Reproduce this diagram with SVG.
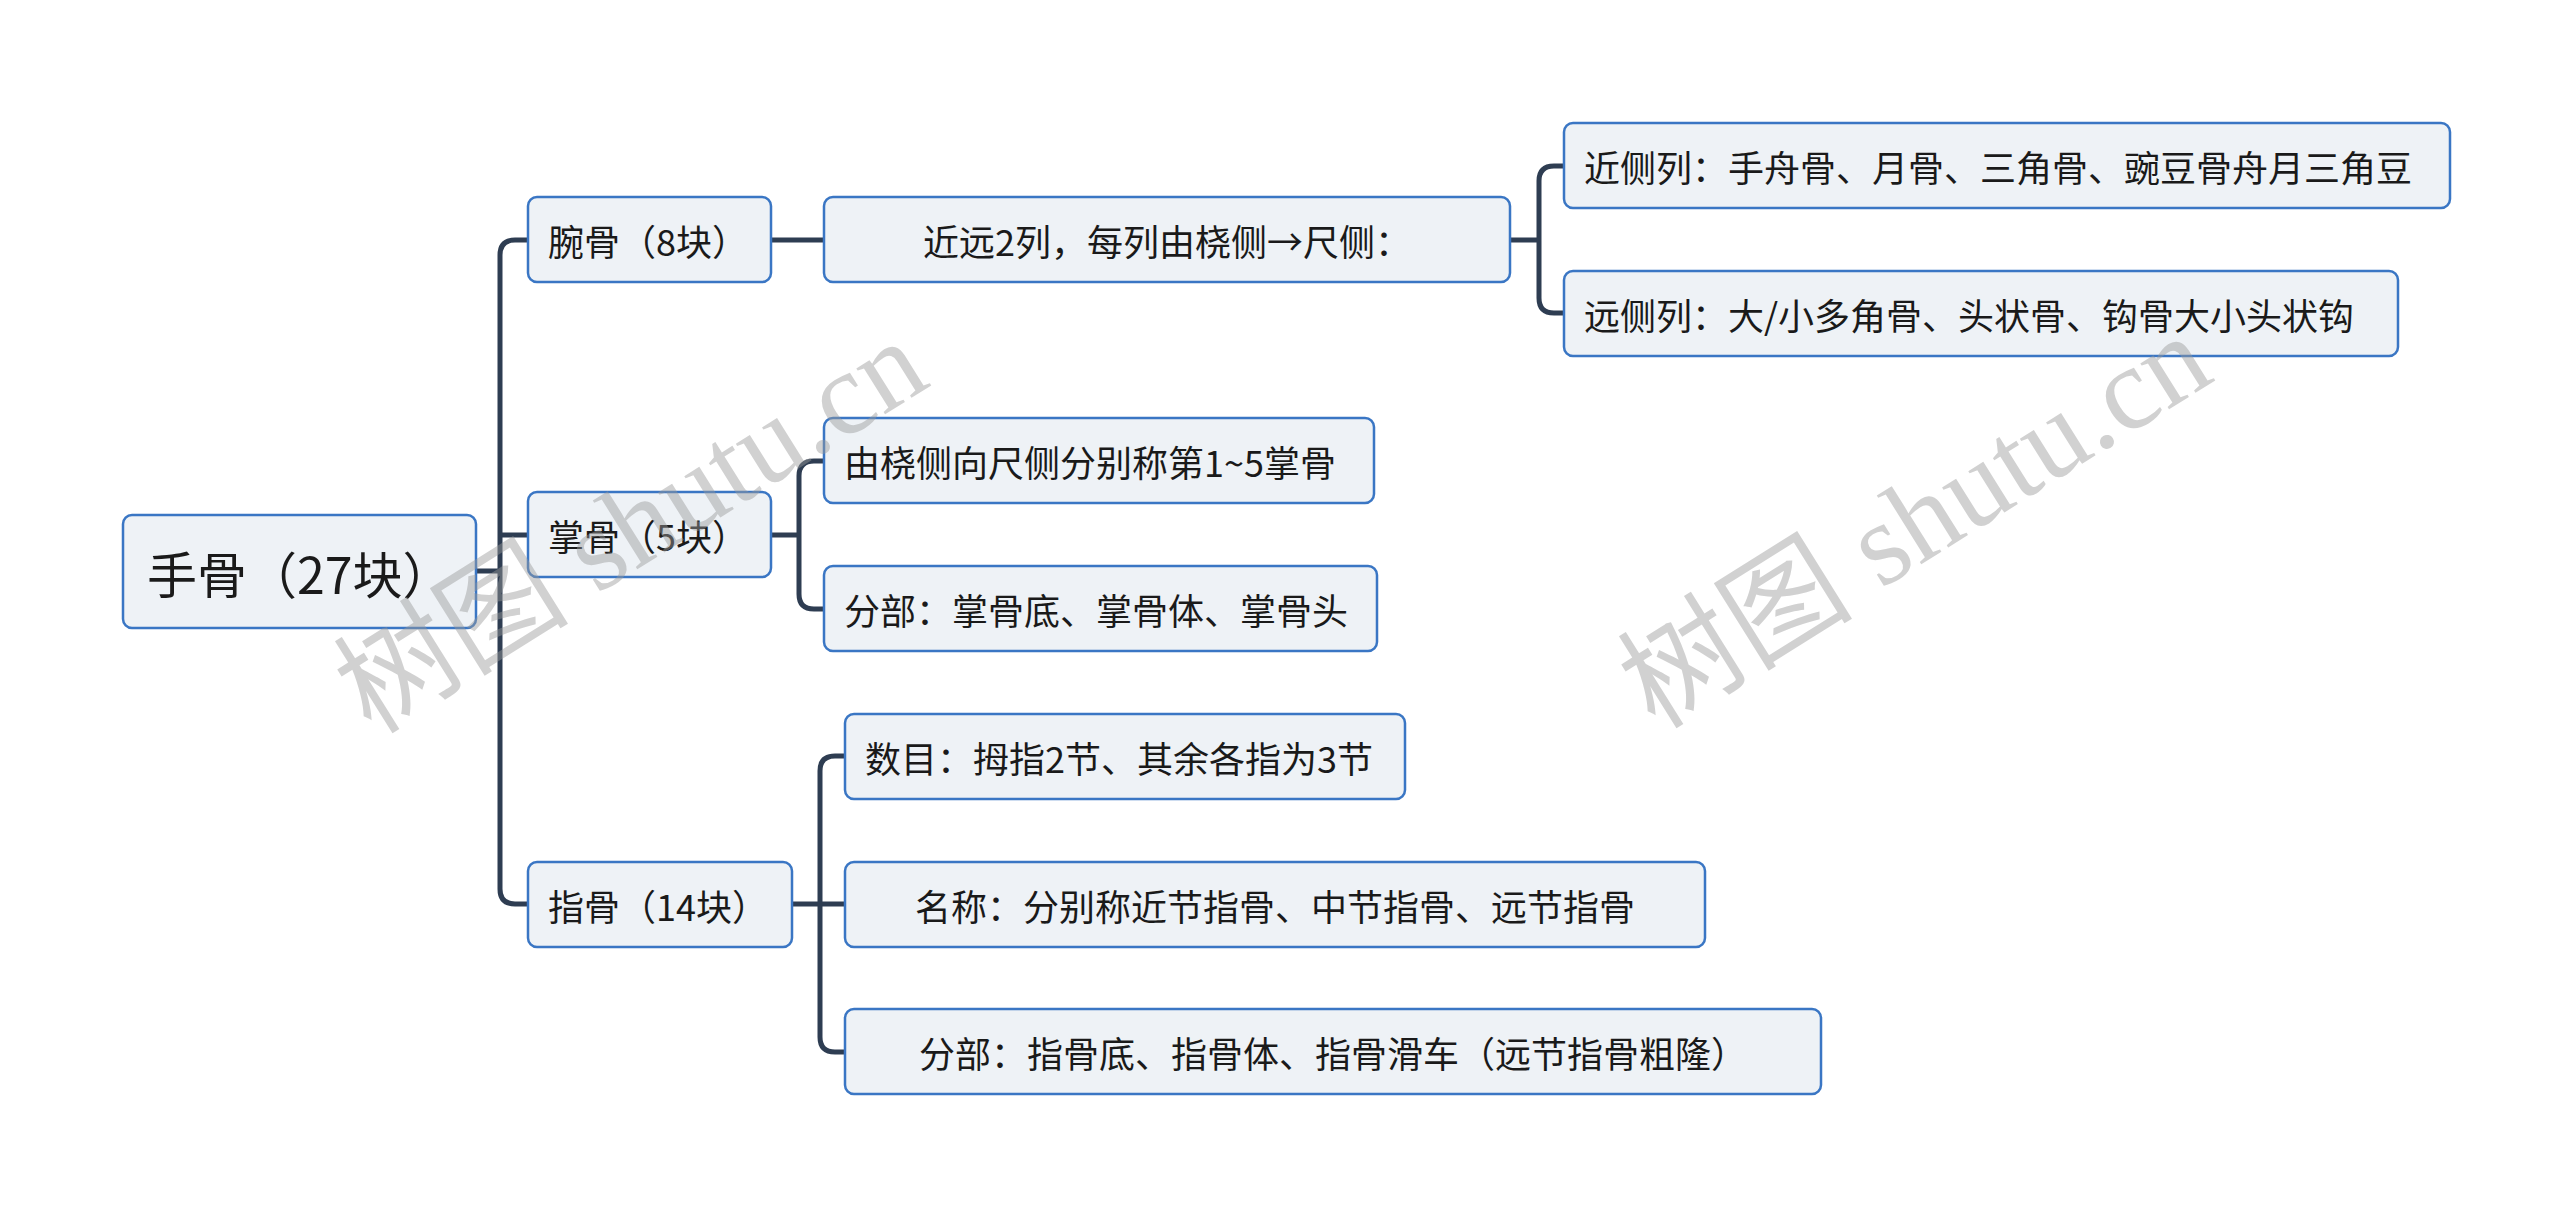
<svg xmlns="http://www.w3.org/2000/svg" width="2560" height="1211" viewBox="0 0 2560 1211">
<style>
.n{fill:#eef2f6;stroke:#3a76c4;stroke-width:2.5}
.t{font-family:"Noto Sans CJK SC","Noto Sans",sans-serif;fill:#1a1a1a;font-size:36px;text-anchor:middle;dominant-baseline:central}
.l{text-anchor:start}
.c{fill:none;stroke:#2e3d52;stroke-width:5;stroke-linecap:round}
.w{font-family:"Liberation Serif","Noto Sans CJK SC",serif;fill:#9a9a9a;opacity:0.45;font-size:118px;text-anchor:middle}
</style>
<rect width="2560" height="1211" fill="#fff"/>
<g id="connectors">
<path class="c" d="M476,571 H500 M528,240 H515 Q500,240 500,255 V889 Q500,904 515,904 H528 M500,535 H528"/>
<path class="c" d="M771,240 H824"/>
<path class="c" d="M1510,240 H1539 M1564,166 H1554 Q1539,166 1539,181 V298 Q1539,313 1554,313 H1564"/>
<path class="c" d="M771,535 H799 M824,461 H814 Q799,461 799,476 V594 Q799,609 814,609 H824"/>
<path class="c" d="M792,904 H820 M845,756 H835 Q820,756 820,771 V1037 Q820,1052 835,1052 H845 M820,904 H845"/>
</g>
<g id="root"><rect class="n" x="123" y="515" width="353" height="113" rx="9"/><text class="t l" x="147" y="571.5" style="font-size:50px">手骨（27块）</text></g>
<g id="n1"><rect class="n" x="528" y="197" width="243" height="85" rx="9"/><text class="t l" x="548" y="239.5">腕骨（8块）</text></g>
<g id="n2"><rect class="n" x="528" y="492" width="243" height="85" rx="9"/><text class="t l" x="548" y="534.5">掌骨（5块）</text></g>
<g id="n3"><rect class="n" x="528" y="862" width="264" height="85" rx="9"/><text class="t l" x="548" y="904.5">指骨（14块）</text></g>
<g id="n4"><rect class="n" x="824" y="197" width="686" height="85" rx="9"/><text class="t" x="1167" y="239.5">近远2列，每列由桡侧→尺侧：</text></g>
<g id="n5"><rect class="n" x="824" y="418" width="550" height="85" rx="9"/><text class="t l" x="844" y="460.5">由桡侧向尺侧分别称第1~5掌骨</text></g>
<g id="n6"><rect class="n" x="824" y="566" width="553" height="85" rx="9"/><text class="t l" x="844" y="608.5">分部：掌骨底、掌骨体、掌骨头</text></g>
<g id="n7"><rect class="n" x="845" y="714" width="560" height="85" rx="9"/><text class="t l" x="865" y="756.5">数目：拇指2节、其余各指为3节</text></g>
<g id="n8"><rect class="n" x="845" y="862" width="860" height="85" rx="9"/><text class="t" x="1275" y="904.5">名称：分别称近节指骨、中节指骨、远节指骨</text></g>
<g id="n9"><rect class="n" x="845" y="1009" width="976" height="85" rx="9"/><text class="t" x="1333" y="1051.5">分部：指骨底、指骨体、指骨滑车（远节指骨粗隆）</text></g>
<g id="n10"><rect class="n" x="1564" y="123" width="886" height="85" rx="9"/><text class="t l" x="1584" y="165.5">近侧列：手舟骨、月骨、三角骨、豌豆骨舟月三角豆</text></g>
<g id="n11"><rect class="n" x="1564" y="271" width="834" height="85" rx="9"/><text class="t l" x="1584" y="313.5">远侧列：大/小多角骨、头状骨、钩骨大小头状钩</text></g>
<text class="w" transform="translate(652,560) rotate(-32)">树图 shutu.cn</text>
<text class="w" transform="translate(1936,555) rotate(-32)">树图 shutu.cn</text>
</svg>
